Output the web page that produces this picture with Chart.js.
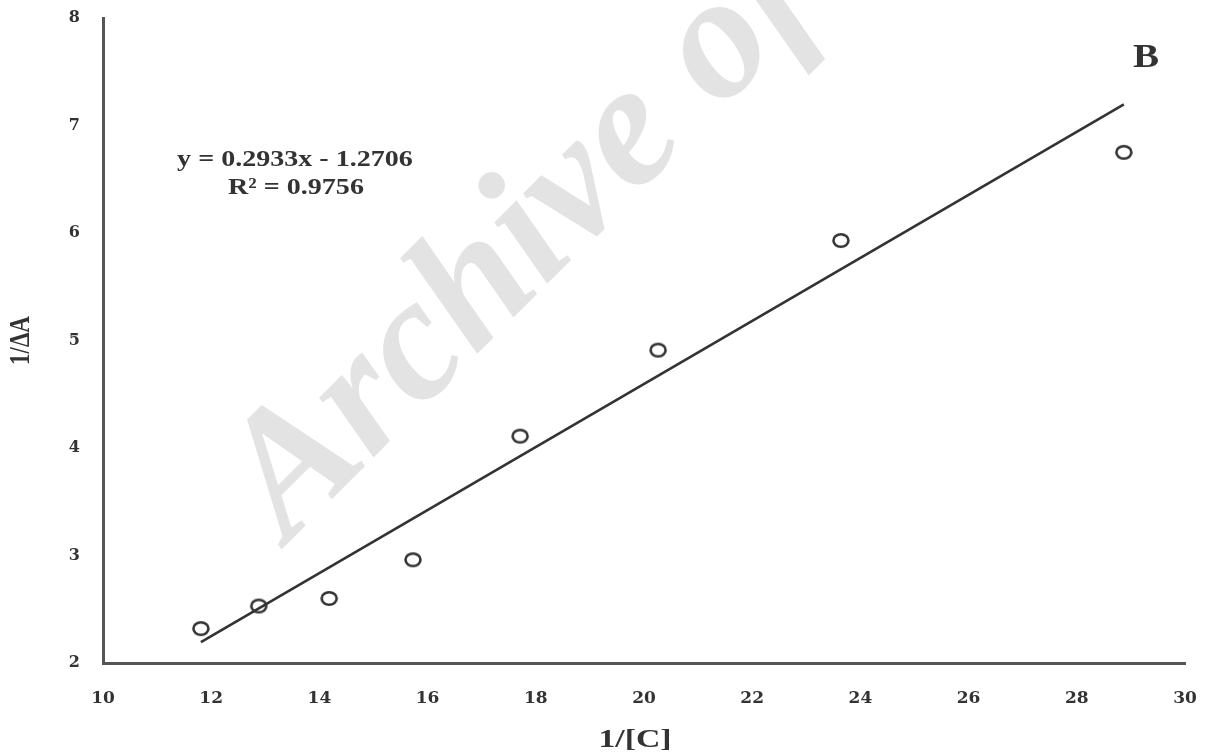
<!DOCTYPE html>
<html>
<head>
<meta charset="utf-8">
<title>1/ΔA versus 1/[C]</title>
<script src="https://cdn.jsdelivr.net/npm/chart.js@4/dist/chart.umd.min.js"></script>
<style>
  html, body { margin: 0; padding: 0; background: #ffffff; }
  #wrap { width: 1207px; height: 756px; position: relative; }
</style>
</head>
<body>
<div id="wrap"><canvas id="plot" width="1207" height="756"></canvas></div>
<script>
// Measured points: 1/[C] and the matching 1/ΔA
const invConc = [11.81, 12.88, 14.18, 15.73, 17.71, 20.26, 23.64, 28.87];
const invAbs  = [2.32, 2.53, 2.60, 2.96, 4.11, 4.91, 5.93, 6.75];

// Least-squares fit reported on the plot
const fitSlope = 0.2933;
const fitIntercept = -1.2706;
const fitR2 = 0.9756;

// Axis ranges and labels
const xTicks = [10, 12, 14, 16, 18, 20, 22, 24, 26, 28, 30];
const yTicks = [2, 3, 4, 5, 6, 7, 8];
const xTitle = '1/[C]';
const yTitle = '1/ΔA';
const panelLabel = 'B';
const eqLine1 = 'y = ' + fitSlope.toFixed(4) + 'x - ' + Math.abs(fitIntercept).toFixed(4);
const eqLine2 = 'R² = ' + fitR2.toFixed(4);
const stampText = 'Archive of SID';

const points = invConc.map((x, i) => ({ x: x, y: invAbs[i] }));
const xFirst = invConc[0], xLast = invConc[invConc.length - 1];
const fitLine = [xFirst, xLast].map(x => ({ x: x, y: fitSlope * x + fitIntercept }));

const SERIF = '"Liberation Serif", "Times New Roman", serif';
const TICK_SERIF = '"DejaVu Serif", "Liberation Serif", serif';
const INK = '#333333';

// Hollow, slightly wide ring used as the point marker
function makeRing(rx, ry, lw, color) {
  const c = document.createElement('canvas');
  c.width = Math.ceil(2 * rx + lw + 2);
  c.height = Math.ceil(2 * ry + lw + 2);
  const g = c.getContext('2d');
  g.strokeStyle = color;
  g.lineWidth = lw;
  g.beginPath();
  g.ellipse(c.width / 2, c.height / 2, rx, ry, 0, 0, Math.PI * 2);
  g.stroke();
  return c;
}
const ring = makeRing(7.5, 6.2, 2.6, INK);

// Scales keep a fixed footprint; no extra room reserved for edge labels
function fixBox(scale, w, h) {
  if (w !== null) scale.width = w;
  if (h !== null) scale.height = h;
  scale.paddingTop = 0;
  scale.paddingBottom = 0;
  scale.paddingLeft = 0;
  scale.paddingRight = 0;
}

// Text drawn with a horizontal stretch factor
function wideText(ctx, text, x, y, font, sx, rot) {
  ctx.save();
  ctx.translate(x, y);
  ctx.scale(sx, 1);
  if (rot) ctx.rotate(rot);
  ctx.font = font;
  ctx.textAlign = 'center';
  ctx.textBaseline = 'middle';
  ctx.fillText(text, 0, 0);
  ctx.restore();
}

// Faint diagonal stamp behind the data
const stampPlugin = {
  id: 'stamp',
  beforeDatasetsDraw(chart) {
    const ctx = chart.ctx;
    ctx.save();
    ctx.translate(288, 543);
    ctx.rotate(-45 * Math.PI / 180);
    ctx.font = 'italic bold 176px ' + SERIF;
    ctx.fillStyle = '#e3e3e3';
    ctx.textAlign = 'left';
    ctx.textBaseline = 'alphabetic';
    ctx.fillText(stampText, 0, 0);
    ctx.restore();
  }
};

// Axis titles, fit equation and panel letter
const notesPlugin = {
  id: 'notes',
  afterDraw(chart) {
    const ctx = chart.ctx;
    const a = chart.chartArea;
    ctx.save();
    ctx.fillStyle = INK;
    wideText(ctx, eqLine1, a.left + 192, a.top + 142, 'bold 23px ' + SERIF, 1.22);
    wideText(ctx, eqLine2, a.left + 193, a.top + 170, 'bold 23px ' + SERIF, 1.22);
    wideText(ctx, panelLabel, a.left + 1043, a.top + 40, 'bold 34px ' + SERIF, 1.15);
    wideText(ctx, xTitle, (a.left + a.right) / 2 - 9, 740, 'bold 26px ' + SERIF, 1.3);
    wideText(ctx, yTitle, 22, (a.top + a.bottom) / 2, 'bold 23px ' + SERIF, 1.25, -Math.PI / 2);
    ctx.restore();
  }
};

new Chart(document.getElementById('plot'), {
  type: 'scatter',
  data: {
    datasets: [
      {
        label: '1/ΔA',
        data: points,
        showLine: false,
        pointStyle: ring,
        pointRadius: 7,
        pointHoverRadius: 7,
        order: 1
      },
      {
        label: 'fit',
        data: fitLine,
        showLine: true,
        borderColor: INK,
        borderWidth: 2.6,
        pointRadius: 0,
        fill: false,
        order: 2
      }
    ]
  },
  options: {
    responsive: false,
    animation: false,
    events: [],
    layout: { padding: { top: 18, right: 22, bottom: 0, left: 0 } },
    plugins: {
      legend: { display: false },
      tooltip: { enabled: false }
    },
    scales: {
      x: {
        type: 'linear',
        min: xTicks[0],
        max: xTicks[xTicks.length - 1],
        afterFit(scale) { fixBox(scale, null, 93); },
        afterBuildTicks(scale) { scale.ticks = xTicks.map(v => ({ value: v })); },
        grid: { display: false, drawTicks: false },
        border: { display: true, color: '#555555', width: 3 },
        ticks: {
          padding: 25,
          color: INK,
          font: { family: TICK_SERIF, size: 17, weight: 'bold' }
        },
        title: { display: false }
      },
      y: {
        type: 'linear',
        min: yTicks[0],
        max: yTicks[yTicks.length - 1],
        afterFit(scale) { fixBox(scale, 103, null); },
        afterBuildTicks(scale) { scale.ticks = yTicks.map(v => ({ value: v })); },
        grid: { display: false, drawTicks: false },
        border: { display: true, color: '#555555', width: 3 },
        ticks: {
          padding: 23,
          color: INK,
          font: { family: TICK_SERIF, size: 16, weight: 'bold' }
        },
        title: { display: false }
      }
    }
  },
  plugins: [stampPlugin, notesPlugin]
});
</script>
</body>
</html>
